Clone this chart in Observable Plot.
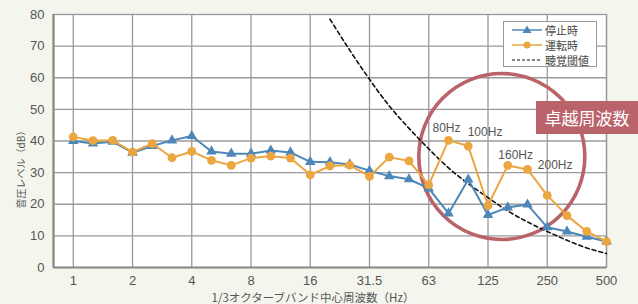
<!DOCTYPE html>
<html><head><meta charset="utf-8">
<script src="https://cdn.jsdelivr.net/npm/d3@7"></script>
<script src="https://cdn.jsdelivr.net/npm/@observablehq/plot@0.6"></script>
<style>
html,body{margin:0;padding:0;background:#f4f6ee;}
#wrap{position:relative;width:638px;height:304px;background:#f4f6ee;overflow:hidden;font-family:"Liberation Sans","Noto Sans CJK JP",sans-serif;}
#wrap svg{position:absolute;left:0;top:0;}
.ov{position:absolute;white-space:nowrap;}
</style></head>
<body><div id="wrap"></div>
<script>
// 1/3 octave band centre frequencies (Hz)
const bands = ["1","1.25","1.6","2","2.5","3.15","4","5","6.3","8","10","12.5","16","20","25","31.5","40","50","63","80","100","125","160","200","250","315","400","500"];
const tickBands = ["1","2","4","8","16","31.5","63","125","250","500"];
// 停止時 (stopped)
const stopped = [40.0,39.2,39.8,36.3,38.4,40.2,41.6,36.7,36.0,36.0,37.0,36.4,33.4,33.3,32.6,30.6,28.9,27.9,25.0,17.1,27.8,16.6,19.0,19.9,12.7,11.4,9.7,8.2];
// 運転時 (running)
const running = [41.3,40.1,40.2,36.5,39.2,34.7,36.7,33.9,32.3,34.6,35.2,34.6,29.3,32.1,32.4,28.8,34.9,33.7,26.1,40.2,38.4,19.6,32.3,31.0,22.8,16.4,11.4,8.2];
// 聴覚閾値 (hearing threshold), 20 Hz – 500 Hz
const thresholdBands = ["20","25","31.5","40","50","63","80","100","125","160","200","250","315","400","500"];
const threshold = [78.5,68.7,59.5,51.1,44.0,37.5,31.5,26.5,22.1,17.9,14.4,11.4,8.6,6.2,4.4];
// annotations
const peakLabels = ["80Hz","100Hz","160Hz","200Hz"];
const peakLabelX = [18.9,20.85,22.4,24.4];
const peakLabelY = [44.0,42.9,35.5,32.3];
const circleCenter = [{x:21.7,y:35.1}];

const idx = b => bands.indexOf(b);
const stopData = bands.map((b,i)=>({x:i,y:stopped[i]}));
const runData = bands.map((b,i)=>({x:i,y:running[i]}));
const thrData = thresholdBands.map((b,i)=>({x:idx(b),y:threshold[i]}));
const labData = peakLabels.map((t,i)=>({t,x:peakLabelX[i],y:peakLabelY[i]}));

const blue="#4d87ba", orange="#eba63f", red="#bb636b";

const chart = Plot.plot({
  width:638, height:304,
  marginLeft:53, marginRight:32, marginTop:14, marginBottom:37,
  style:{background:"transparent", fontFamily:"Liberation Sans, sans-serif", fontSize:"13px", color:"#555"},
  x:{domain:[-1,27], ticks:tickBands.map(idx), tickFormat:d=>bands[d], tickSize:0, tickPadding:8, label:null},
  y:{domain:[0,80], ticks:d3.range(0,81,10), tickSize:0, tickPadding:9, label:null},
  marks:[
    Plot.frame({fill:"white"}),
    Plot.gridY(d3.range(10,80,10),{stroke:"#9a9a9a",strokeOpacity:1,strokeWidth:1.3}),
    Plot.gridX(tickBands.map(idx),{stroke:"#9a9a9a",strokeOpacity:1,strokeWidth:1.3}),
    Plot.frame({stroke:"#999",strokeWidth:1.3}),
    Plot.ruleX([-1],{stroke:"#8a8a8a",strokeWidth:2.2}),
    Plot.ruleY([0],{stroke:"#8a8a8a",strokeWidth:2.2}),
    Plot.axisX({tickSize:0,tickPadding:8,ticks:tickBands.map(idx),tickFormat:d=>bands[d],fill:"#555",label:null}),
    Plot.axisY({tickSize:0,tickPadding:9,ticks:d3.range(0,81,10),fill:"#555",label:null}),
    Plot.dot(circleCenter,{x:"x",y:"y",r:83,stroke:red,strokeWidth:3.6,fill:"none"}),
    Plot.line(thrData,{x:"x",y:"y",curve:"natural",stroke:"#111",strokeWidth:1.6,strokeDasharray:"4,3"}),
    Plot.line(stopData,{x:"x",y:"y",stroke:blue,strokeWidth:2}),
    Plot.dot(stopData,{x:"x",y:"y",symbol:"triangle",r:3.9,fill:blue}),
    Plot.line(runData,{x:"x",y:"y",stroke:orange,strokeWidth:2}),
    Plot.dot(runData,{x:"x",y:"y",r:4.4,fill:orange}),
    Plot.text(labData,{x:"x",y:"y",text:"t",fontSize:12,fill:"#555",fontFamily:"Liberation Sans, sans-serif"})
  ]
});
const wrap=document.getElementById("wrap");
wrap.appendChild(chart);

// legend
const leg=document.createElement("div");
leg.className="ov";
leg.style.cssText="left:503px;top:21px;width:92px;height:44px;background:#fff;border:1px solid #999;font-size:11px;color:#444;font-family:'Noto Sans CJK JP',sans-serif;";
const items=[["停止時","tri"],["運転時","dot"],["聴覚閾値","dash"]];
items.forEach(([t,k],i)=>{
  const row=document.createElement("div");
  row.style.cssText=`position:absolute;left:8px;top:${1+i*15}px;height:14px;line-height:14px;`;
  let sym="";
  if(k==="tri") sym=`<line x1="0" y1="7" x2="30" y2="7" stroke="${blue}" stroke-width="1.5"/><path d="M15,2.5 L19.5,10 L10.5,10Z" fill="${blue}"/>`;
  if(k==="dot") sym=`<line x1="0" y1="7" x2="30" y2="7" stroke="${orange}" stroke-width="1.5"/><circle cx="15" cy="7" r="3.5" fill="${orange}"/>`;
  if(k==="dash") sym=`<line x1="0" y1="7" x2="30" y2="7" stroke="#111" stroke-width="1.2" stroke-dasharray="3,2"/>`;
  row.innerHTML=`<svg width="31" height="14" style="position:absolute;left:0;top:0">${sym}</svg><span style="position:absolute;left:33px;top:0">${t}</span>`;
  leg.appendChild(row);
});
wrap.appendChild(leg);

// 卓越周波数 label box
const box=document.createElement("div");
box.className="ov";
box.style.cssText=`left:536px;top:101px;width:102px;height:33px;background:${red};color:#fff;font-size:17px;line-height:33px;text-align:center;font-family:'Noto Sans CJK JP',sans-serif;`;
box.textContent="卓越周波数";
wrap.appendChild(box);

// axis titles
const xt=document.createElement("div");
xt.className="ov";
xt.style.cssText="left:313px;top:290px;transform:translateX(-50%);font-size:11.5px;color:#555;font-family:'Noto Sans CJK JP',sans-serif;line-height:14px;";
xt.textContent="1/3オクターブバンド中心周波数（Hz）";
wrap.appendChild(xt);
const yt=document.createElement("div");
yt.className="ov";
yt.style.cssText="left:21px;top:167px;transform:translate(-50%,-50%) rotate(-90deg);font-size:10px;color:#555;font-family:'Noto Sans CJK JP',sans-serif;line-height:12px;";
yt.textContent="音圧レベル（dB）";
wrap.appendChild(yt);
</script></body></html>
